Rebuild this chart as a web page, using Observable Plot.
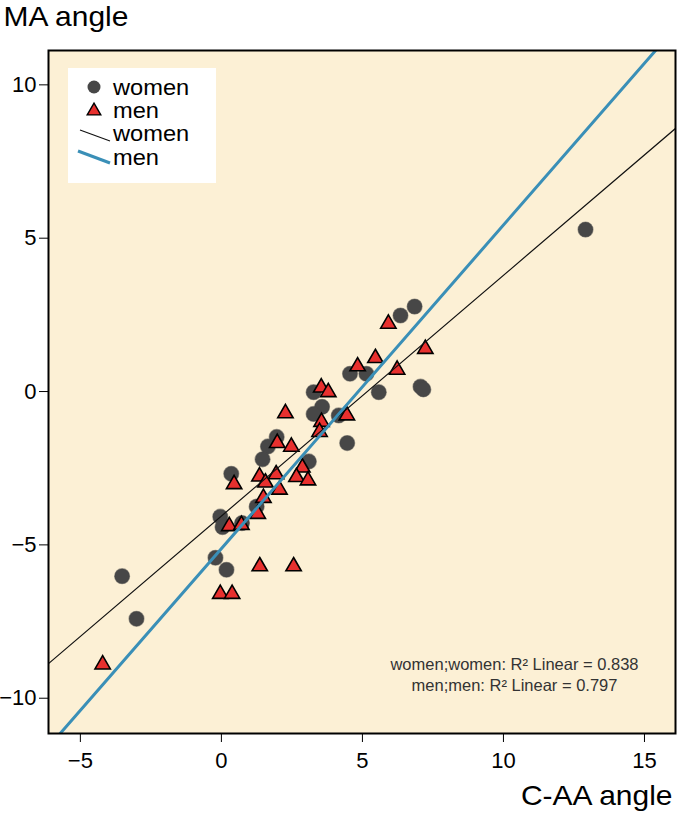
<!DOCTYPE html>
<html>
<head>
<meta charset="utf-8">
<script src="https://cdn.jsdelivr.net/npm/d3@7"></script>
<script src="https://cdn.jsdelivr.net/npm/@observablehq/plot@0.6"></script>
<style>
  html, body { margin: 0; padding: 0; background: #fff; }
  #chart { position: relative; width: 680px; height: 816px; }
</style>
</head>
<body>
<div id="chart"></div>
<script>
// ---- data ----
const womenX = [6.85, 6.35, 4.56, 5.14, 5.58, 7.06, 7.16, 3.27, 3.57, 3.27, 4.16, 4.46, 1.96, 1.65, 1.46, 3.10, 0.35, 1.25, -0.04, 0.04, 0.73, -0.21, 0.18, -3.52, -3.01, 12.91];
const womenY = [2.77, 2.48, 0.58, 0.58, -0.02, 0.16, 0.07, -0.02, -0.50, -0.73, -0.78, -1.68, -1.48, -1.79, -2.21, -2.28, -2.68, -3.75, -4.08, -4.42, -4.29, -5.42, -5.81, -6.02, -7.41, 5.28];

const menX = [5.92, 7.23, 5.46, 4.83, 6.23, 3.54, 3.79, 2.27, 3.55, 3.48, 4.45, 1.98, 2.48, 2.87, 0.45, 1.35, 1.94, 1.56, 2.06, 2.66, 3.07, 1.49, 1.29, 0.28, 0.71, 1.36, 2.56, -0.04, 0.38, -4.21];
const menY = [2.21, 1.39, 1.09, 0.82, 0.71, 0.13, -0.02, -0.71, -0.99, -1.32, -0.78, -1.68, -1.80, -2.48, -3.02, -2.77, -2.70, -2.97, -3.20, -2.79, -2.90, -3.47, -3.99, -4.39, -4.35, -5.70, -5.70, -6.60, -6.60, -8.90];

// fitted lines (slope, intercept) as drawn in the reference
const fitGroups = ["women", "men"];
const fitSlope = [0.785, 1.055];
const fitIntercept = [-4.06, -5.12];
const r2Labels = ["women;women: R² Linear = 0.838", "men;men: R² Linear = 0.797"];

const xTicks = [-5, 0, 5, 10, 15];
const yTicks = [-10, -5, 0, 5, 10];
const xDomain = [-6.13, 16.1];
const yDomain = [-11.15, 11.12];

const xTitle = "C-AA angle";
const yTitle = "MA angle";

// ---- build tables ----
const women = womenX.map((x, i) => ({x, y: womenY[i]}));
const men = menX.map((x, i) => ({x, y: menY[i]}));
const fitLines = fitGroups.map((g, i) => xDomain.map(x => ({group: g, x, y: fitSlope[i] * x + fitIntercept[i]})));

const FONT = "'Liberation Sans', Arial, Helvetica, sans-serif";
const BG = "#fcf0d5";
const GRAY = "#474747";
const RED = "#e8302e";
const BLUE = "#3a8fb7";

const svg = Plot.plot({
  width: 680,
  height: 816,
  marginLeft: 48,
  marginRight: 5,
  marginTop: 50,
  marginBottom: 83,
  style: {background: "#fff", fontFamily: FONT, fontSize: "22px", color: "#000"},
  x: {domain: xDomain, ticks: xTicks, tickSize: 9, tickPadding: 10, label: null},
  y: {domain: yDomain, ticks: yTicks, tickSize: 9, tickPadding: 3, label: null},
  marks: [
    Plot.frame({fill: BG, stroke: "none"}),
    Plot.dot(women, {x: "x", y: "y", r: 7.5, fill: GRAY, stroke: GRAY, strokeOpacity: 0.5, strokeWidth: 1.2}),
    Plot.dot(men, {x: "x", y: "y", symbol: "triangle", r: 5.7, fill: RED, stroke: "#000", strokeWidth: 1.6}),
    Plot.line(fitLines[0], {x: "x", y: "y", stroke: "#111", strokeWidth: 1.2, clip: true}),
    Plot.line(fitLines[1], {x: "x", y: "y", stroke: BLUE, strokeWidth: 3, clip: true}),
    Plot.text([r2Labels.join("\n")], {frameAnchor: "bottom-right", dx: -161, dy: -60, text: d => d, textAnchor: "middle", lineAnchor: "middle", lineHeight: 1.3, fontSize: 16.5, fill: "#333"}),
    Plot.text([yTitle], {frameAnchor: "top-left", dx: -45, dy: -33, text: d => d, textAnchor: "start", lineAnchor: "middle", fontSize: 28, fill: "#000"}),
    Plot.text([xTitle], {frameAnchor: "bottom-right", dx: -3, dy: 63, text: d => d, textAnchor: "end", lineAnchor: "middle", fontSize: 28, fill: "#000"}),
    Plot.frame({stroke: "#000", strokeWidth: 2})
  ]
});

document.getElementById("chart").appendChild(svg);

// slightly wider titles, as in the reference typeface
d3.select(svg).selectAll("text").each(function() {
  const txt = this.textContent;
  if (txt === xTitle || txt === yTitle) {
    const w = this.getComputedTextLength();
    if (w > 0) {
      this.setAttribute("textLength", w * 1.07);
      this.setAttribute("lengthAdjust", "spacingAndGlyphs");
    }
  }
});

// ---- legend (box in the upper-left of the plot) ----
const s = d3.select(svg);
const lg = s.append("g").attr("font-family", FONT).attr("font-size", 21.5).attr("text-anchor", "start");
lg.append("rect").attr("x", 68).attr("y", 68).attr("width", 148).attr("height", 115).attr("fill", "#fff");
const rows = [
  {label: fitGroups[0], kind: "circle", y: 87},
  {label: fitGroups[1], kind: "triangle", y: 110},
  {label: fitGroups[0], kind: "thin", y: 133},
  {label: fitGroups[1], kind: "thick", y: 157}
];
rows.forEach(r => {
  if (r.kind === "circle") {
    lg.append("circle").attr("cx", 94).attr("cy", r.y).attr("r", 6.5).attr("fill", GRAY);
  } else if (r.kind === "triangle") {
    lg.append("path").attr("transform", `translate(94,${r.y + 1})`)
      .attr("d", d3.symbol(d3.symbolTriangle, 80)())
      .attr("fill", RED).attr("stroke", "#000").attr("stroke-width", 1.4);
  } else if (r.kind === "thin") {
    lg.append("line").attr("x1", 80).attr("y1", r.y - 3).attr("x2", 110).attr("y2", r.y + 8)
      .attr("stroke", "#111").attr("stroke-width", 1.2);
  } else {
    lg.append("line").attr("x1", 78).attr("y1", r.y - 6).attr("x2", 110).attr("y2", r.y + 6)
      .attr("stroke", BLUE).attr("stroke-width", 3);
  }
  const t = lg.append("text").attr("x", 113).attr("y", r.y).attr("dy", "0.35em").attr("fill", "#000").text(r.label);
  const w = t.node().getComputedTextLength();
  if (w > 0) t.attr("textLength", w * 1.1).attr("lengthAdjust", "spacingAndGlyphs");
});
</script>
</body>
</html>
